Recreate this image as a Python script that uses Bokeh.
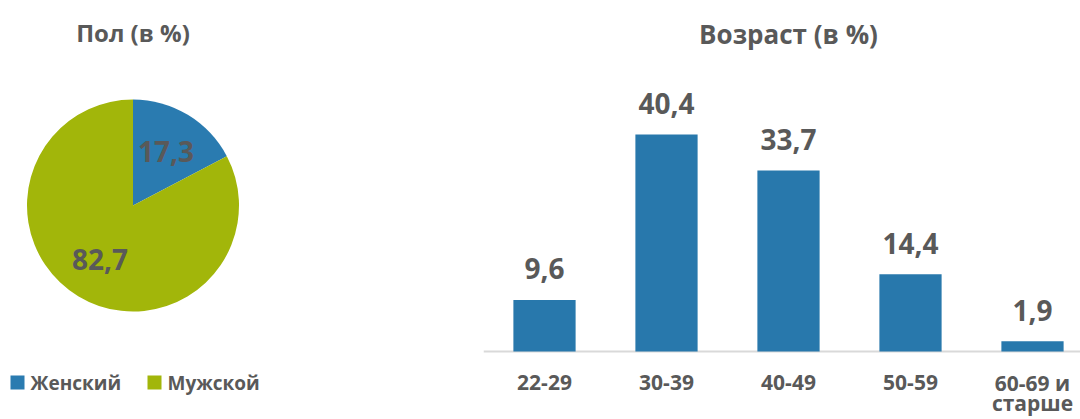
import math
from bokeh.plotting import figure
from bokeh.models import Range1d
from bokeh.layouts import row
from bokeh.core.properties import value
from bokeh.embed import file_html
from bokeh.resources import INLINE

# ---- data ----
pie_title = "Пол (в %)"
sex_labels = ["Женский", "Мужской"]
sex_values = [17.3, 82.7]
sex_colors = ["#2A7BB0", "#A2B60A"]

bar_title = "Возраст (в %)"
age_labels = ["22-29", "30-39", "40-49", "50-59", "60-69 и\nстарше"]
age_values = [9.6, 40.4, 33.7, 14.4, 1.9]
bar_color = "#2878AC"

TEXT = "#595959"
FONT = "Open Sans"

def fmt(v):
    return f"{v:.1f}".replace(".", ",")

# ---- pie ----
PW, H = 483, 419
pie = figure(width=PW, height=H, output_backend="svg", toolbar_location=None,
             x_range=Range1d(0, PW), y_range=Range1d(0, H),
             min_border=0, outline_line_color=None)
pie.axis.visible = False
pie.grid.visible = False

cx, cy, r = 132.5, H - 205, 106
total = sum(sex_values)
starts, ends, mids = [], [], []
a = math.pi / 2
for v in sex_values:
    sweep = 2 * math.pi * v / total
    starts.append(a)
    ends.append(a - sweep)
    mids.append(a - sweep / 2)
    a -= sweep

pie.wedge(x=cx, y=cy, radius=r, start_angle=starts, end_angle=ends,
          direction="clock", fill_color=sex_colors, line_color=None)

lr = 0.6 * r
pie.text(x=[cx + lr * math.cos(m) for m in mids],
         y=[cy + lr * math.sin(m) for m in mids],
         text=[fmt(v) for v in sex_values],
         text_font=value(FONT), text_font_style="bold", text_font_size="28px",
         text_color=TEXT, text_align="center", text_baseline="middle")

pie.text(x=[cx], y=[H - 32], text=[pie_title], text_font=value(FONT),
         text_font_style="bold", text_font_size="24px", text_color=TEXT,
         text_align="center", text_baseline="middle")

# legend
leg_x = [17, 154]
leg_y = H - 382
pie.rect(x=leg_x, y=leg_y, width=14, height=14, fill_color=sex_colors, line_color=None)
pie.text(x=[x + 13 for x in leg_x], y=leg_y, text=sex_labels, text_font=value(FONT),
         text_font_style="bold", text_font_size="19px", text_color=TEXT,
         text_align="left", text_baseline="middle")

# ---- bars ----
BW = 1080 - PW
step = 122
base_px = 351
px_per_unit = 5.37
xs = [i + 0.5 for i in range(len(age_values))]
bar = figure(width=BW, height=H, output_backend="svg", toolbar_location=None,
             x_range=Range1d(0, BW / step),
             y_range=Range1d(-(H - base_px) / px_per_unit, base_px / px_per_unit),
             min_border=0, outline_line_color=None)
bar.axis.visible = False
bar.grid.visible = False

# baseline
bar.segment(x0=[0], y0=[0], x1=[BW / step], y1=[0], line_color="#D9D9D9", line_width=2)
bar.vbar(x=xs, top=age_values, width=0.51, fill_color=bar_color, line_color=None)
bar.text(x=xs, y=age_values, text=[fmt(v) for v in age_values], y_offset=-31,
         text_font=value(FONT), text_font_style="bold", text_font_size="28px",
         text_color=TEXT, text_align="center", text_baseline="middle")

# category labels (split into lines)
lines1 = [lab.split("\n")[0] for lab in age_labels]
lines2 = [lab.split("\n")[1] if "\n" in lab else "" for lab in age_labels]
label_style = dict(text_font=value(FONT), text_font_style="bold", text_font_size="21px",
                   text_color=TEXT, text_align="center", text_baseline="middle")
bar.text(x=xs, y=[0] * len(xs), text=lines1, y_offset=31, **label_style)
bar.text(x=xs, y=[0] * len(xs), text=lines2, y_offset=51, **label_style)

bar.text(x=[len(age_values) / 2], y=[(base_px - 33) / px_per_unit], text=[bar_title],
         text_font=value(FONT), text_font_style="bold", text_font_size="26px",
         text_color=TEXT, text_align="center", text_baseline="middle")

layout = row(pie, bar)
open("out.html", "w").write(file_html(layout, INLINE))
